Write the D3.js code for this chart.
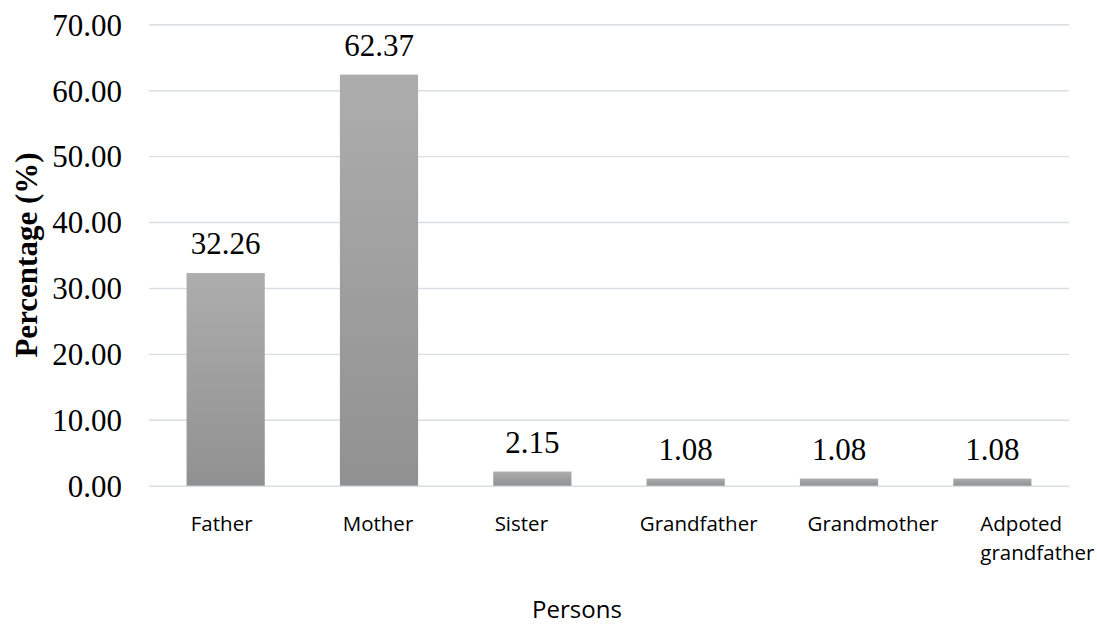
<!DOCTYPE html>
<html>
<head>
<meta charset="utf-8">
<script src="https://cdn.jsdelivr.net/npm/d3@7"></script>
<style>
  html, body { margin: 0; padding: 0; background: #fff; }
  svg { display: block; }
</style>
</head>
<body>
<svg id="chart" width="1097" height="626"></svg>
<script>
// Who the respondents named, as a share of all answers
const categories = ["Father", "Mother", "Sister", "Grandfather", "Grandmother", "Adpoted grandfather"];
const values = [32.26, 62.37, 2.15, 1.08, 1.08, 1.08];
const yTicks = [0, 10, 20, 30, 40, 50, 60, 70];
const yTitle = "Percentage (%)";
const xTitle = "Persons";

// category labels: wrapped lines and small horizontal nudges
const labelLines = [["Father"], ["Mother"], ["Sister"], ["Grandfather"], ["Grandmother"], ["Adpoted", "grandfather"]];
const labelNudge = [-4, -1, -11, 13, 34, 0];
const labelAnchor = ["middle", "middle", "middle", "middle", "middle", "start"];

const svg = d3.select("#chart");
const margin = { left: 149, right: 28, top: 24.3, bottom: 140.3 };
const W = 1097, H = 626;

const x = d3.scaleBand()
  .domain(categories)
  .range([margin.left, W - margin.right])
  .paddingInner(0.49)
  .paddingOuter(0.245);

const y = d3.scaleLinear()
  .domain([0, 70])
  .range([H - margin.bottom, margin.top]);

// bar fill: light grey at the top fading to a darker grey
const defs = svg.append("defs");
const grad = defs.append("linearGradient")
  .attr("id", "barFill")
  .attr("x1", 0).attr("y1", 0).attr("x2", 0).attr("y2", 1);
grad.append("stop").attr("offset", "0%").attr("stop-color", "#adadad");
grad.append("stop").attr("offset", "100%").attr("stop-color", "#919191");

// horizontal gridlines
const yAxis = d3.axisLeft(y)
  .tickValues(yTicks)
  .tickSize(-(W - margin.left - margin.right))
  .tickPadding(27)
  .tickFormat(d3.format(".2f"));

const gy = svg.append("g")
  .attr("transform", `translate(${margin.left},0)`)
  .call(yAxis);
gy.select(".domain").remove();
gy.selectAll(".tick line")
  .attr("stroke", "#d9dde4")
  .attr("stroke-width", 1.4);
gy.selectAll(".tick text")
  .attr("fill", "#000")
  .attr("font-family", "'Liberation Serif', 'Times New Roman', serif")
  .attr("font-size", 31)
  .attr("dy", "0.35em");

// bars
svg.append("g")
  .selectAll("rect")
  .data(values)
  .join("rect")
  .attr("x", (d, i) => x(categories[i]))
  .attr("width", x.bandwidth())
  .attr("y", d => y(d))
  .attr("height", d => y(0) - y(d))
  .attr("fill", "url(#barFill)");

// value labels above each bar
svg.append("g")
  .selectAll("text")
  .data(values)
  .join("text")
  .attr("x", (d, i) => x(categories[i]) + x.bandwidth() / 2)
  .attr("y", d => y(d) - 19)
  .attr("text-anchor", "middle")
  .attr("font-family", "'Liberation Serif', 'Times New Roman', serif")
  .attr("font-size", 31)
  .attr("fill", "#000")
  .text(d => d.toFixed(2));

// category labels under the axis
const catG = svg.append("g");
categories.forEach((c, i) => {
  const cx = x(c) + x.bandwidth() / 2;
  const anchor = labelAnchor[i];
  const tx = anchor === "start" ? cx - 12 : cx + labelNudge[i];
  const t = catG.append("text")
    .attr("x", tx)
    .attr("y", 531)
    .attr("text-anchor", anchor)
    .attr("font-family", "'Open Sans', 'Noto Sans', sans-serif")
    .attr("font-size", 20.5)
    .attr("fill", "#000");
  labelLines[i].forEach((line, k) => {
    t.append("tspan")
      .attr("x", tx)
      .attr("dy", k === 0 ? 0 : 29)
      .text(line);
  });
});

// axis titles
svg.append("text")
  .attr("x", 577)
  .attr("y", 618)
  .attr("text-anchor", "middle")
  .attr("font-family", "'Open Sans', 'Noto Sans', sans-serif")
  .attr("font-size", 24)
  .attr("fill", "#000")
  .text(xTitle);

svg.append("text")
  .attr("transform", "translate(37,255) rotate(-90)")
  .attr("text-anchor", "middle")
  .attr("font-family", "'Liberation Serif', 'Times New Roman', serif")
  .attr("font-weight", "bold")
  .attr("font-size", 31)
  .attr("fill", "#000")
  .text(yTitle);
</script>
</body>
</html>
